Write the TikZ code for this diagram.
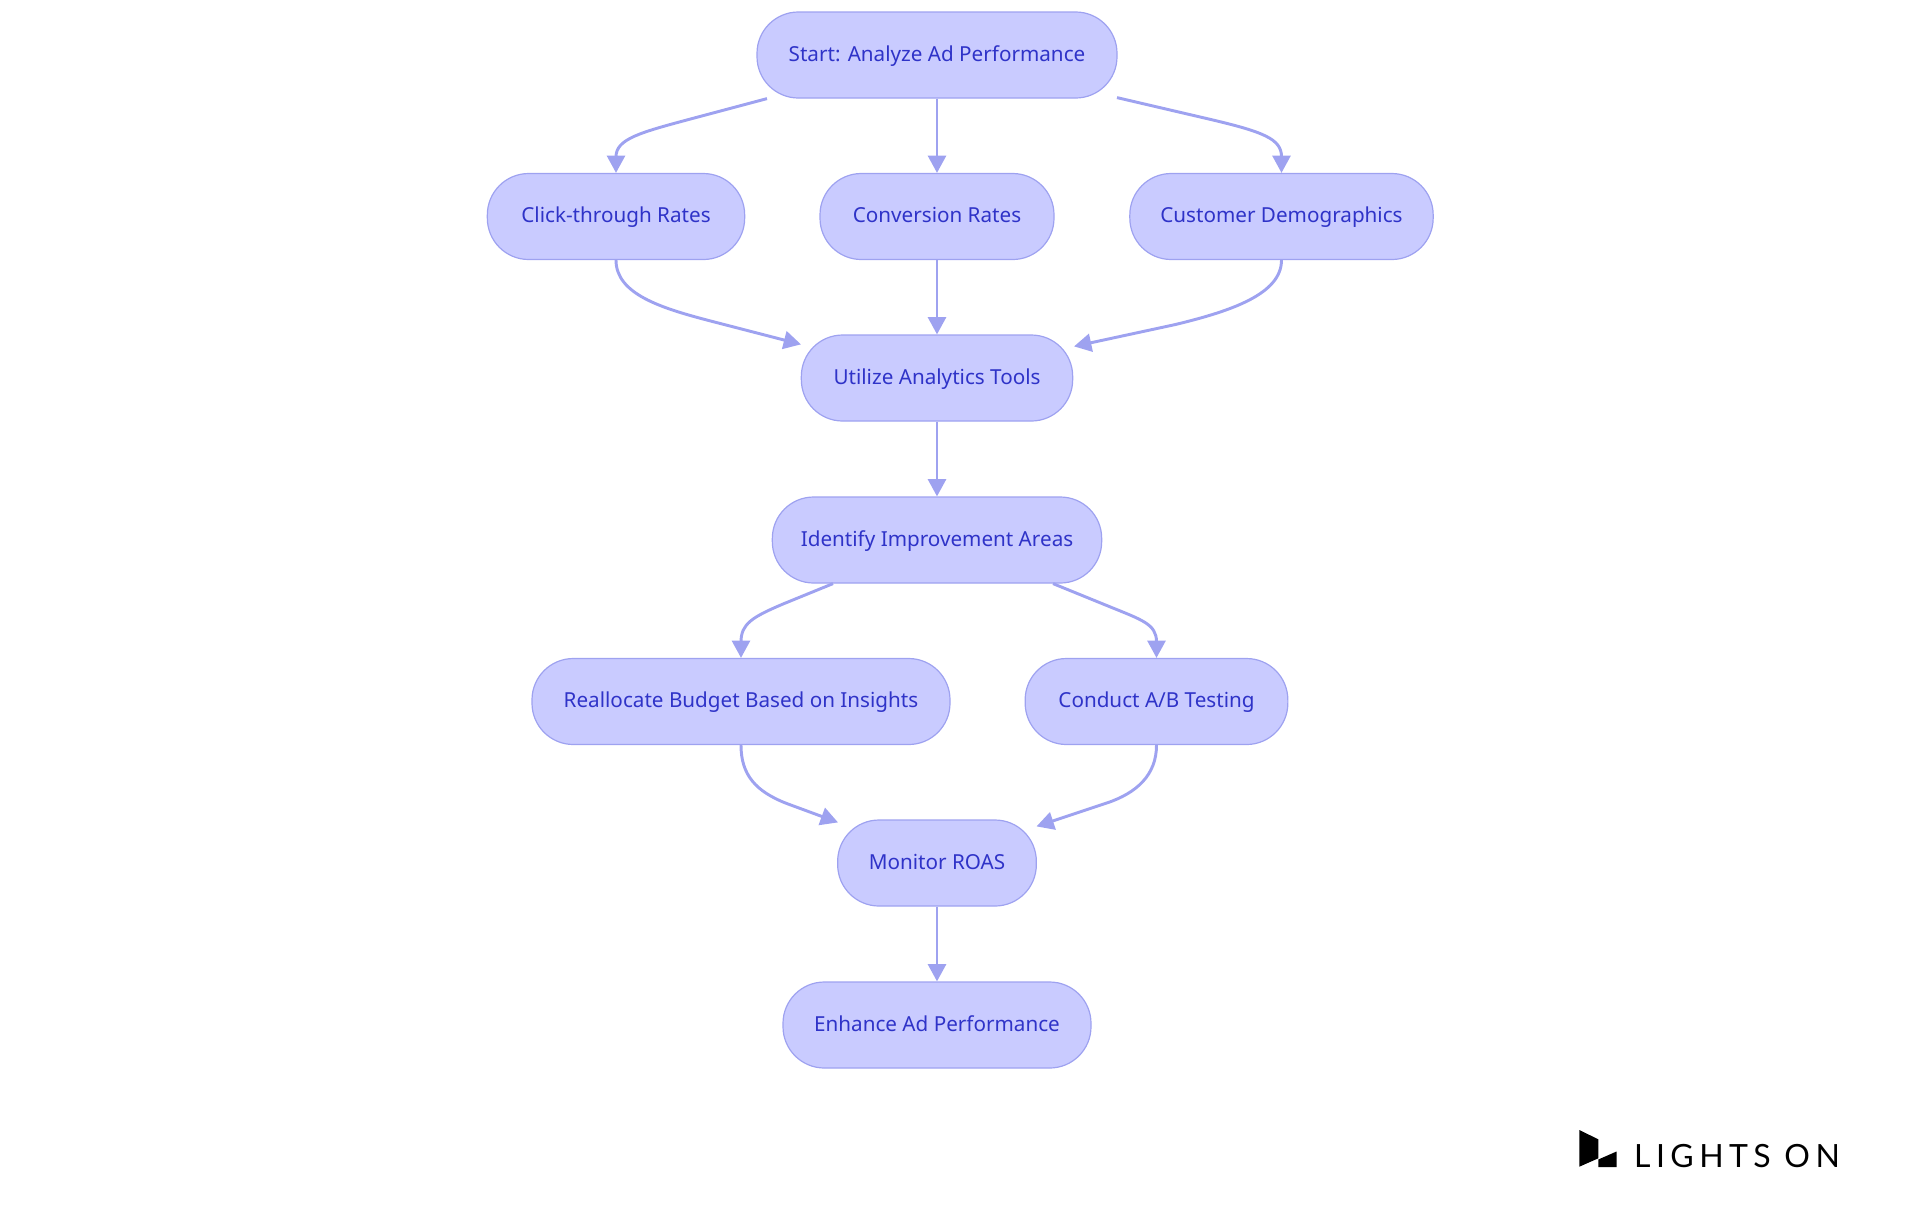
\documentclass[tikz,border=0pt]{standalone}
\usepackage{fontspec}
\setmainfont{Noto Sans}
\newfontfamily\logofont[LetterSpace=17]{Lato}
\usetikzlibrary{arrows.meta,calc}
\definecolor{nodefill}{HTML}{C9CBFF}
\definecolor{nodeline}{HTML}{9EA2F0}
\definecolor{nodetext}{HTML}{2F33C8}
\tikzset{
  x=0.75pt,y=-0.75pt,
  box/.style={draw=nodeline,fill=nodefill,line width=0.9pt,rounded corners=31pt,minimum height=64.5pt,inner sep=0pt,text=nodetext,font=\fontsize{15.5}{18}\selectfont,text height=13pt,text depth=4pt,anchor=center},
  edge/.style={draw=nodeline,line width=2.2pt,-{Triangle[length=13pt,width=13.5pt]}}
}
\begin{document}
\begin{tikzpicture}
\useasboundingbox (0,0) rectangle (1920,1215);
\node[box,minimum width=270pt] (start) at (937,55) {Start: Analyze Ad Performance};
\node[box,minimum width=193pt] (ctr) at (616,216.5) {Click-through Rates};
\node[box,minimum width=175.5pt] (conv) at (937,216.5) {Conversion Rates};
\node[box,minimum width=227.5pt] (cust) at (1281.5,216.5) {Customer Demographics};
\node[box,minimum width=203.5pt] (util) at (937,378) {Utilize Analytics Tools};
\node[box,minimum width=247pt] (ident) at (937,540) {Identify Improvement Areas};
\node[box,minimum width=313.5pt] (realloc) at (741,701.5) {Reallocate Budget Based on Insights};
\node[box,minimum width=197pt] (ab) at (1156.5,701.5) {Conduct A/B Testing};
\node[box,minimum width=149pt] (mon) at (937,863) {Monitor ROAS};
\node[box,minimum width=231pt] (enh) at (937,1025) {Enhance Ad Performance};
% connectors
\draw[edge] ($(start.south)+(-170,0)$) -- ($(start.south)+(-245,20)$) .. controls ($(start.south)+(-297,33.9)$) and ($(ctr.north)+(0,-34)$) .. ($(ctr.north)+(0,-16)$) -- (ctr.north);
\draw[edge] (start.south) -- (conv.north);
\draw[edge] ($(start.south)+(180,-1)$) -- ($(start.south)+(270,20)$) .. controls ($(start.south)+(327,33.3)$) and ($(cust.north)+(0,-34)$) .. ($(cust.north)+(0,-16)$) -- (cust.north);
\draw[edge] (ctr.south) .. controls ($(ctr.south)+(0,34)$) and ($(ctr.south)+(45,48)$) .. ($(ctr.south)+(95,61)$) -- ($(util.north)+(-136,10)$);
\draw[edge] (conv.south) -- (util.north);
\draw[edge] (cust.south) .. controls ($(cust.south)+(0,34)$) and ($(cust.south)+(-50.5,51)$) .. ($(cust.south)+(-106.5,64.5)$) -- ($(util.north)+(137,12)$);
\draw[edge] (util.south) -- (ident.north);
\draw[edge] ($(ident.south)+(-104,0)$) -- ($(ident.south)+(-153,20)$) .. controls ($(ident.south)+(-185,33.5)$) and ($(realloc.north)+(0,-34)$) .. ($(realloc.north)+(0,-16)$) -- (realloc.north);
\draw[edge] ($(ident.south)+(116,0)$) -- ($(ident.south)+(170,22)$) .. controls ($(ident.south)+(205,36.3)$) and ($(ab.north)+(0,-34)$) .. ($(ab.north)+(0,-16)$) -- (ab.north);
\draw[edge] (realloc.south) .. controls ($(realloc.south)+(0,30)$) and ($(realloc.south)+(15,46.5)$) .. ($(realloc.south)+(46,58.5)$) -- ($(mon.north)+(-99,3)$);
\draw[edge] (ab.south) .. controls ($(ab.south)+(0,30)$) and ($(ab.south)+(-20,48)$) .. ($(ab.south)+(-50,58)$) -- ($(mon.north)+(99.5,7)$);
\draw[edge] (mon.south) -- (enh.north);
% logo
\fill[black] (1579.3,1130) -- (1598.3,1139.3) -- (1598.3,1158.3) -- (1579.3,1166.7) -- cycle;
\fill[black] (1598.3,1159.5) -- (1616.5,1151.5) -- (1616.5,1167) -- (1598.3,1167) -- cycle;
\node[inner sep=0pt,font=\logofont\fontsize{24}{28}\selectfont,text=black] (logo) at (1737,1156) {LIGHTS ON};
\end{tikzpicture}
\end{document}
